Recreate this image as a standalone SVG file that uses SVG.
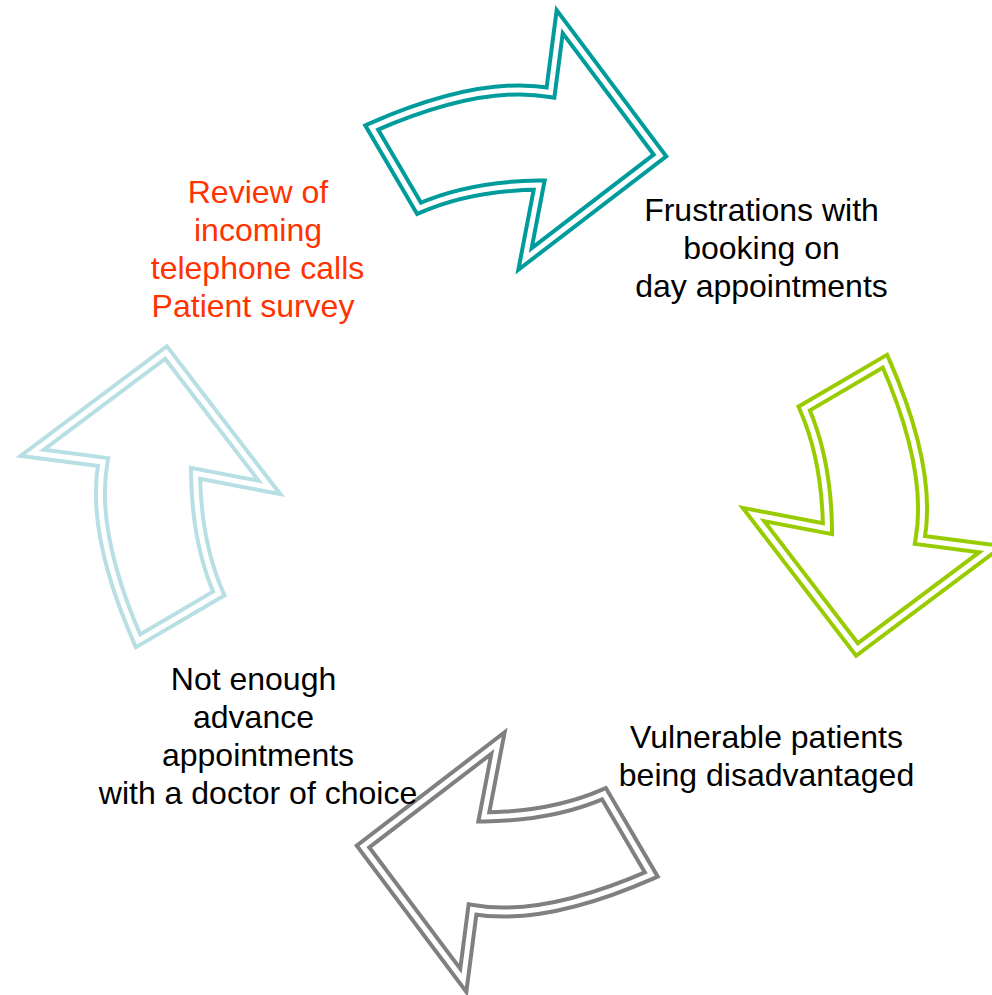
<svg xmlns="http://www.w3.org/2000/svg" xmlns:xlink="http://www.w3.org/1999/xlink" width="992" height="995" viewBox="0 0 992 995">
  <style>
    .lbl { font-family: "Liberation Sans", Arial, sans-serif; font-size: 32px; text-anchor: middle; fill: #000000; }
    .red { fill: #FF3300; }
    .outer { fill: #ffffff; stroke: currentColor; stroke-width: 13; stroke-linejoin: miter; stroke-miterlimit: 10; }
    .inner { fill: none; stroke: #ffffff; stroke-width: 5; stroke-linejoin: miter; stroke-miterlimit: 10; }
  </style>
  <defs>
    <path id="arrowPath" d="M 371.7,127.5 Q 480,80 550.5,92.5 L 559.7,21.7 L 660,155.5 L 525,259 L 539.2,185 Q 470,186 419,208.3 Z"/>
    <g id="arrowShape">
      <use xlink:href="#arrowPath" href="#arrowPath" class="outer"/>
      <use xlink:href="#arrowPath" href="#arrowPath" class="inner"/>
    </g>
  </defs>
  <rect x="0" y="0" width="992" height="995" fill="#ffffff"/>
  <g id="connectors">
    <use id="arrow-top" xlink:href="#arrowShape" href="#arrowShape" style="color:#009C9C"/>
    <use id="arrow-right" xlink:href="#arrowShape" href="#arrowShape" style="color:#99CC00" transform="rotate(90 511.5 501)"/>
    <use id="arrow-bottom" xlink:href="#arrowShape" href="#arrowShape" style="color:#808080" transform="rotate(180 511.5 501)"/>
    <use id="arrow-left" xlink:href="#arrowShape" href="#arrowShape" style="color:#B8DFE3" transform="rotate(270 511.5 501)"/>
  </g>
  <g id="node-review">
    <text class="lbl red" x="258" y="203">Review of</text>
    <text class="lbl red" x="258" y="241">incoming</text>
    <text class="lbl red" x="257.5" y="279">telephone calls</text>
    <text class="lbl red" x="253" y="317">Patient survey</text>
  </g>
  <g id="node-frustrations">
    <text class="lbl" x="761.5" y="221">Frustrations with</text>
    <text class="lbl" x="761.5" y="259">booking on</text>
    <text class="lbl" x="761.5" y="297">day appointments</text>
  </g>
  <g id="node-vulnerable">
    <text class="lbl" x="766.5" y="748">Vulnerable patients</text>
    <text class="lbl" x="766.5" y="786">being disadvantaged</text>
  </g>
  <g id="node-not-enough">
    <text class="lbl" x="253.5" y="690">Not enough</text>
    <text class="lbl" x="253.5" y="728">advance</text>
    <text class="lbl" x="258" y="766">appointments</text>
    <text class="lbl" x="258" y="804">with a doctor of choice</text>
  </g>
</svg>
